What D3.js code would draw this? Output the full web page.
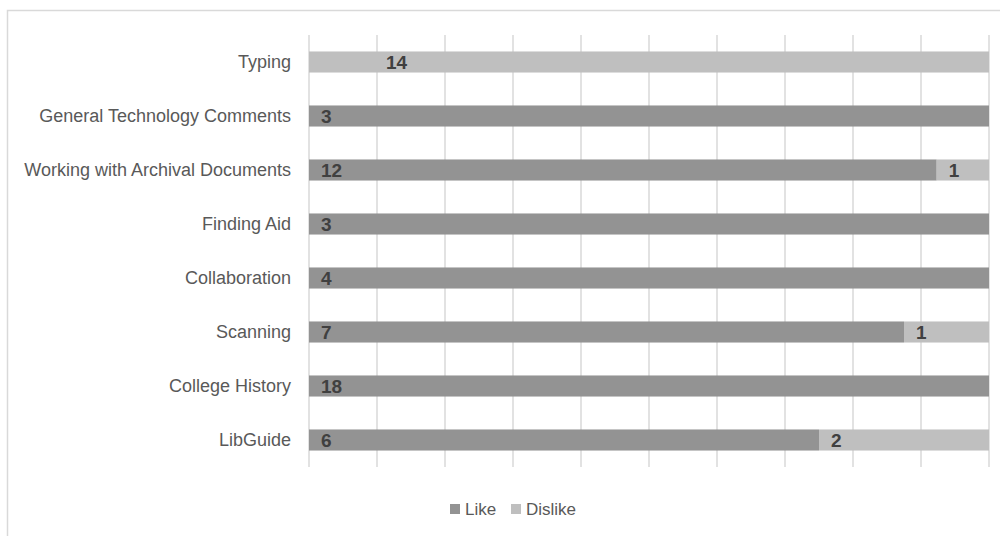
<!DOCTYPE html>
<html lang="en">
<head>
    <meta charset="UTF-8">
    <title>Like / Dislike by Topic</title>
    <script src="https://d3js.org/d3.v7.min.js"></script>
    <style>
        body {
            margin: 0;
            background-color: #ffffff;
            font-family: "Liberation Sans", Arial, sans-serif;
        }
        svg {
            display: block;
        }
    </style>
</head>
<body>
    <svg id="chart" width="1000" height="536"></svg>

    <script>
        // Data
        const categories = [
            "Typing",
            "General Technology Comments",
            "Working with Archival Documents",
            "Finding Aid",
            "Collaboration",
            "Scanning",
            "College History",
            "LibGuide"
        ];
        const likeValues = [0, 3, 12, 3, 4, 7, 18, 6];
        const dislikeValues = [14, 0, 1, 0, 0, 1, 0, 2];
        const seriesNames = ["Like", "Dislike"];
        const xTicks = [0, 0.1, 0.2, 0.3, 0.4, 0.5, 0.6, 0.7, 0.8, 0.9, 1];

        const colors = { Like: "#939393", Dislike: "#bfbfbf" };

        const svg = d3.select("#chart");

        // Outer chart border (runs off the right and bottom edges)
        svg.append("rect")
            .attr("x", 7.5)
            .attr("y", 10.5)
            .attr("width", 1000)
            .attr("height", 540)
            .attr("fill", "none")
            .attr("stroke", "#d9d9d9")
            .attr("stroke-width", 1.5);

        const margin = { top: 35, left: 309 },
              width = 680,
              height = 432;

        const g = svg.append("g")
            .attr("transform", `translate(${margin.left},${margin.top})`);

        // Build stacked, normalised rows
        const rows = categories.map((c, i) => ({
            category: c,
            Like: likeValues[i],
            Dislike: dislikeValues[i]
        }));

        const stack = d3.stack()
            .keys(seriesNames)
            .offset(d3.stackOffsetExpand);
        const stacked = stack(rows);

        const xScale = d3.scaleLinear()
            .domain([0, 1])
            .range([0, width]);

        const yScale = d3.scaleBand()
            .domain(categories)
            .range([0, height])
            .paddingInner(0.61)
            .paddingOuter(0.305);

        // Gridlines
        g.append("g")
            .selectAll("line")
            .data(xTicks)
            .enter().append("line")
            .attr("x1", d => xScale(d))
            .attr("x2", d => xScale(d))
            .attr("y1", 0)
            .attr("y2", height)
            .attr("stroke", "#d9d9d9")
            .attr("stroke-width", 1.5);

        // Category labels
        g.append("g")
            .call(d3.axisLeft(yScale).tickSize(0).tickPadding(18))
            .call(ax => ax.select(".domain").remove())
            .selectAll("text")
            .attr("font-family", "'Liberation Sans', Arial, sans-serif")
            .attr("font-size", "18px")
            .attr("fill", "#595959");

        // Bars
        const layers = g.selectAll(".layer")
            .data(stacked)
            .enter().append("g")
            .attr("class", "layer")
            .attr("fill", d => colors[d.key]);

        layers.selectAll("rect")
            .data(d => d)
            .enter().append("rect")
            .attr("x", d => xScale(d[0]))
            .attr("y", d => yScale(d.data.category))
            .attr("width", d => xScale(d[1]) - xScale(d[0]))
            .attr("height", yScale.bandwidth());

        // Data labels (inside base); Typing's label sits further in, as in the original
        const typingNudge = 65;
        stacked.forEach(layer => {
            g.append("g")
                .selectAll("text")
                .data(layer.filter(d => d.data[layer.key] > 0))
                .enter().append("text")
                .attr("x", d => xScale(d[0]) + 12 + (d.data.category === "Typing" ? typingNudge : 0))
                .attr("y", d => yScale(d.data.category) + yScale.bandwidth() / 2)
                .attr("dy", "0.36em")
                .attr("font-family", "'Liberation Sans', Arial, sans-serif")
                .attr("font-weight", "bold")
                .attr("font-size", "19px")
                .attr("fill", "#404040")
                .text(d => d.data[layer.key]);
        });

        // Legend
        const legendX = [450, 511];
        const legend = svg.selectAll(".legend")
            .data(seriesNames)
            .enter().append("g")
            .attr("class", "legend")
            .attr("transform", (d, i) => `translate(${legendX[i]}, 504)`);

        legend.append("rect")
            .attr("width", 10)
            .attr("height", 10)
            .attr("fill", d => colors[d]);

        legend.append("text")
            .attr("x", 15)
            .attr("y", 5)
            .attr("dy", "0.36em")
            .attr("font-family", "'Liberation Sans', Arial, sans-serif")
            .attr("font-size", "17px")
            .attr("fill", "#595959")
            .text(d => d);
    </script>
</body>
</html>
